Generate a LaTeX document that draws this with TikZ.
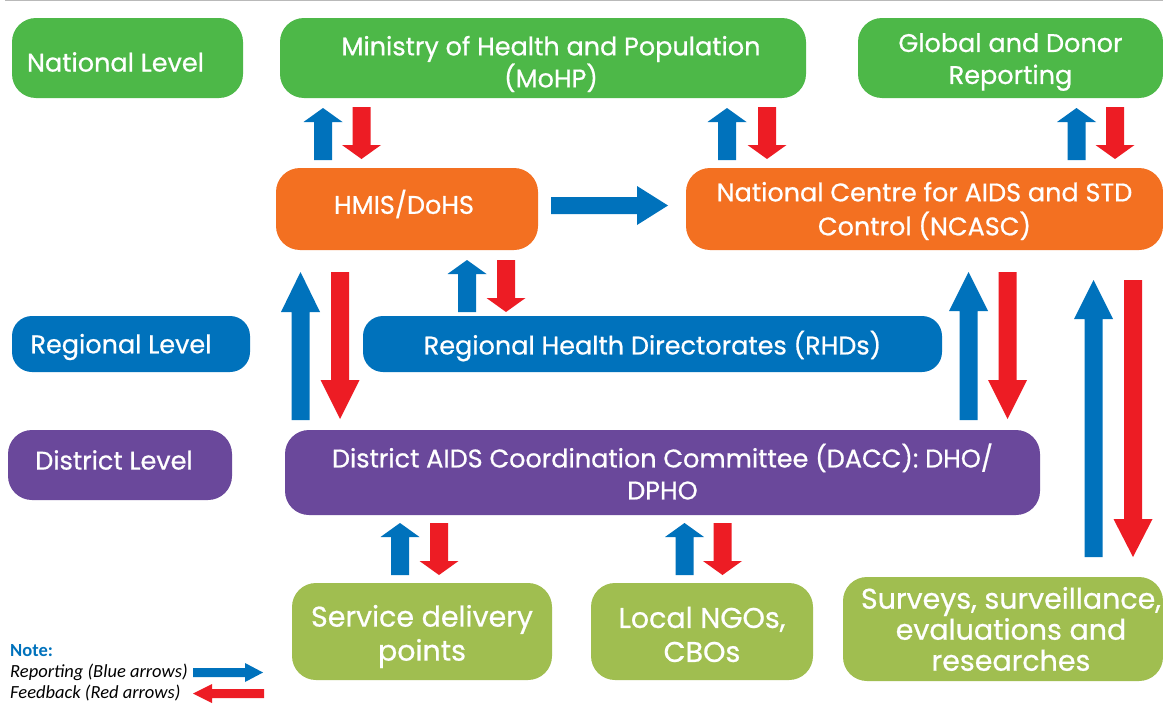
\documentclass[tikz,border=0pt]{standalone}
\usepackage{fontspec}
\setmainfont{Poppins}[FakeBold=0.7]
\newfontfamily\notefont{Carlito}
\definecolor{cgreen}{RGB}{77,184,72}
\definecolor{corange}{RGB}{243,112,33}
\definecolor{cblue}{RGB}{0,114,188}
\definecolor{cpurple}{RGB}{106,72,155}
\definecolor{clime}{RGB}{160,190,80}
\definecolor{cred}{RGB}{237,28,36}
\newcommand{\vblock}[5]{\fill[#1] (#2-9,#3) -- (#2-9,#4) -- (#2-19.5,#4) -- (#2,#5) -- (#2+19.5,#4) -- (#2+9,#4) -- (#2+9,#3) -- cycle;}
\tikzset{
  box/.style={rounded corners=24pt, inner sep=0pt},
  lbl/.style={text=white, align=center, inner sep=0pt, font=\fontsize{25.5}{32}\selectfont},
  biglbl/.style={lbl, font=\fontsize{28.5}{34}\selectfont},
}
\begin{document}
\begin{tikzpicture}[x=1pt,y=-1pt]
\useasboundingbox (0,0) rectangle (1163,704);
\fill[white] (0,0) rectangle (1163,704);
\draw[gray!55, line width=1pt] (5,0.5) -- (1163,0.5);
% national
\node[box, fill=cgreen, minimum width=231pt, minimum height=80pt,
  label={[lbl, xshift=-12pt, yshift=-4pt]center:{National Level}}] (nat) at (127.5,58) {};
\node[box, fill=cgreen, minimum width=526pt, minimum height=80pt,
  label={[lbl, xshift=8pt, yshift=-6pt]center:{Ministry of Health and Population\\(MoHP)}}] (mohp) at (543,58) {};
\node[box, fill=cgreen, minimum width=305pt, minimum height=80pt,
  label={[lbl, yshift=-4pt]center:{Global and Donor\\Reporting}}] (glob) at (1010.5,58) {};
% HMIS / NCASC
\node[box, fill=corange, minimum width=262pt, minimum height=82pt,
  label={[lbl, xshift=-3pt, yshift=5pt]center:{HMIS/DoHS}}] (hmis) at (407,209) {};
\node[box, fill=corange, minimum width=477pt, minimum height=82pt,
  label={[lbl, font=\fontsize{25.5}{34}\selectfont, yshift=-2pt]center:{National Centre for AIDS and STD\\Control (NCASC)}}] (ncasc) at (924.5,209) {};
% regional
\node[box, fill=cblue, rounded corners=20pt, minimum width=238pt, minimum height=56pt,
  label={[lbl, xshift=-10pt, yshift=-3pt]center:{Regional Level}}] (reg) at (131,344) {};
\node[box, fill=cblue, rounded corners=20pt, minimum width=579pt, minimum height=56pt,
  label={[lbl, yshift=-2pt]center:{Regional Health Directorates (RHDs)}}] (rhd) at (652.5,344) {};
% district
\node[box, fill=cpurple, minimum width=224pt, minimum height=70pt,
  label={[lbl, xshift=-6pt, yshift=5pt]center:{District Level}}] (dist) at (120,465) {};
\node[box, fill=cpurple, minimum width=755pt, minimum height=85pt,
  label={[lbl, yshift=1pt]center:{District AIDS Coordination Committee (DACC): DHO/\\DPHO}}] (dacc) at (662.5,472.5) {};
% bottom
\node[box, fill=clime, minimum width=260pt, minimum height=97pt,
  label={[biglbl, yshift=-5pt]center:{Service delivery\\points}}] (sdp) at (422,631.5) {};
\node[box, fill=clime, minimum width=222pt, minimum height=97pt,
  label={[biglbl, yshift=-3pt]center:{Local NGOs,\\CBOs}}] (ngo) at (702,631.5) {};
\node[box, fill=clime, minimum width=320pt, minimum height=104pt,
  label={[biglbl, font=\fontsize{28.5}{31}\selectfont, xshift=8pt]center:{Surveys, surveillance,\\evaluations and\\researches}}] (surv) at (1003,629) {};
% arrows MoHP/HMIS
\vblock{cblue}{323}{160}{122}{108}
\vblock{cred}{361.5}{107}{145}{159}
\vblock{cblue}{727}{160}{122}{108}
\vblock{cred}{767}{107}{145}{159}
\vblock{cblue}{1076.5}{160}{122}{108}
\vblock{cred}{1115}{107}{145}{159}
% long left
\vblock{cblue}{300.5}{420}{312}{272}
\vblock{cred}{340}{272}{380}{419}
% HMIS / RHD
\vblock{cblue}{467}{312}{274}{260}
\vblock{cred}{506}{260}{298}{312}
% right long
\vblock{cblue}{968.5}{420}{311}{272}
\vblock{cred}{1007.5}{272}{380}{419}
% far right
\vblock{cblue}{1093.5}{557}{319}{280}
\vblock{cred}{1133}{280}{519}{557}
% bottom
\vblock{cblue}{400}{575}{537}{523}
\vblock{cred}{439}{523}{561}{575}
\vblock{cblue}{684.5}{575}{537}{523}
\vblock{cred}{722.5}{523}{561}{575}
% horizontal HMIS -> NCASC
\fill[cblue] (551,197) -- (637,197) -- (637,186) -- (668,205.5) -- (637,225) -- (637,214) -- (551,214) -- cycle;
% note
\node[anchor=west, inner sep=0pt, text=cblue, font=\notefont\bfseries\fontsize{18.5}{20}\selectfont] (note) at (10,651) {Note:};
\node[anchor=west, inner sep=0pt, font=\notefont\itshape\fontsize{18.5}{20}\selectfont] (rep) at (10,672.5) {Reporting (Blue arrows)};
\node[anchor=west, inner sep=0pt, font=\notefont\itshape\fontsize{18.5}{20}\selectfont] (fb) at (10,693.5) {Feedback (Red arrows)};
\fill[cblue] (193,668) -- (245,668) -- (245,663) -- (263,672.5) -- (245,682) -- (245,677) -- (193,677) -- cycle;
\fill[cred] (264,689) -- (212,689) -- (212,684) -- (193,693.5) -- (212,703) -- (212,698) -- (264,698) -- cycle;
\end{tikzpicture}
\end{document}
